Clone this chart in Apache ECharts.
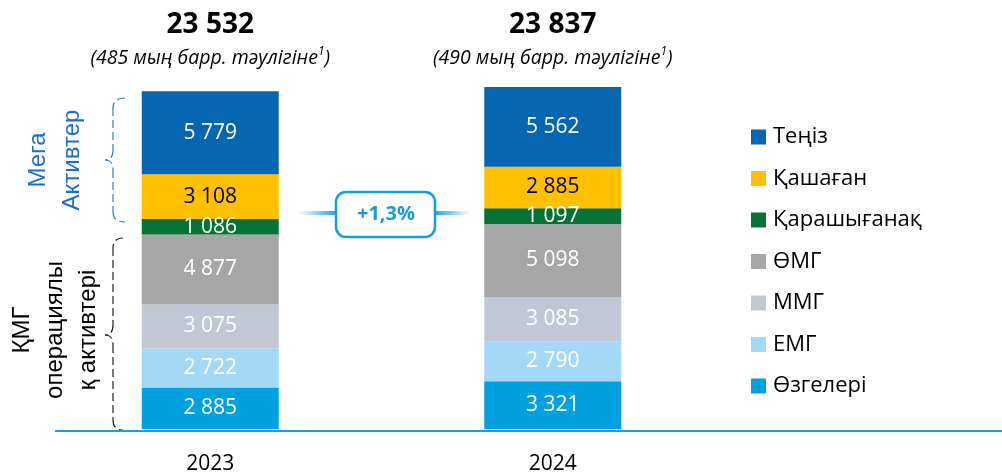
<!DOCTYPE html>
<html lang="kk">

<head>
  <meta charset="UTF-8">
  <title>Өндіріс</title>
  <style>
    html, body { margin: 0; padding: 0; background: #fff; }
    #main { width: 1002px; height: 475px; }
  </style>
</head>

<body>
  <div id="main"></div>
  <script src="https://cdn.jsdelivr.net/npm/echarts@6/dist/echarts.min.js"></script>
  <script>
    // данные
    var years = ['2023', '2024'];
    var totals = [23532, 23837];
    var perDay = ['485', '490'];
    // снизу вверх
    var seriesNames = ['Өзгелері', 'ЕМГ', 'ММГ', 'ӨМГ', 'Қарашығанақ', 'Қашаған', 'Теңіз'];
    var seriesValues = [
      [2885, 3321],
      [2722, 2790],
      [3075, 3085],
      [4877, 5098],
      [1086, 1097],
      [3108, 2885],
      [5779, 5562]
    ];
    var legendOrder = ['Теңіз', 'Қашаған', 'Қарашығанақ', 'ӨМГ', 'ММГ', 'ЕМГ', 'Өзгелері'];

    var colors = ['#00A0E1', '#A3D8F6', '#C2C7D6', '#A6A6A6', '#077235', '#FFC000', '#0766B1'];
    var labelColors = ['#fff', '#fff', '#fff', '#fff', '#fff', '#000', '#fff'];
    var font = '"Open Sans", "Noto Sans", sans-serif';

    function fmt(v) {
      return String(v).replace(/\B(?=(\d{3})+(?!\d))/g, ' ');
    }

    var myChart = echarts.init(document.getElementById('main'));

    var series = seriesNames.map(function (name, i) {
      return {
        name: name,
        type: 'bar',
        stack: 'total',
        barWidth: 137,
        data: seriesValues[i],
        itemStyle: { color: colors[i] },
        label: {
          show: true,
          position: 'inside',
          color: labelColors[i],
          fontFamily: font,
          fontSize: 21,
          formatter: function (p) { return fmt(p.value); }
        }
      };
    });

    myChart.setOption({
      animation: false,
      color: colors,
      grid: { left: 39, right: 278, top: 0, bottom: 44 },
      legend: {
        orient: 'vertical',
        left: 746,
        top: 121,
        itemWidth: 15,
        itemHeight: 15,
        itemGap: 19.5,
        icon: 'rect',
        data: legendOrder,
        textStyle: { fontFamily: font, fontSize: 22, color: '#000', padding: [0, 0, 0, 2] }
      },
      xAxis: {
        type: 'category',
        data: years,
        axisLine: { show: false },
        axisTick: { show: false },
        axisLabel: { color: '#000', fontFamily: font, fontSize: 21, margin: 25 }
      },
      yAxis: {
        type: 'value',
        min: 0,
        max: 29900,
        show: false,
        splitLine: { show: false }
      },
      series: series
    });

    // подписи сверху, скобки, выноска
    var g = [];
    years.forEach(function (y, i) {
      var x = myChart.convertToPixel({ xAxisIndex: 0 }, y);
      g.push({
        type: 'text', x: x, y: 25,
        style: {
          text: fmt(totals[i]), fontFamily: font, fontSize: 28, fontWeight: 'bold',
          fill: '#000', align: 'center', verticalAlign: 'middle'
        }
      });
      g.push({
        type: 'text', x: x, y: 58,
        style: {
          text: '{b|(' + perDay[i] + ' мың барр. тәулігіне}{s|1}{b|)}',
          align: 'center', verticalAlign: 'middle',
          rich: {
            b: { fontFamily: font, fontSize: 19.5, fontStyle: 'italic', fill: '#000', lineHeight: 24 },
            s: { fontFamily: font, fontSize: 12, fontStyle: 'italic', fill: '#000', lineHeight: 24, verticalAlign: 'top', padding: [0, 0, 9, 0] }
          }
        }
      });
    });

    // ось
    g.push({
      type: 'line', z: 100,
      shape: { x1: 55, y1: 431, x2: 1002, y2: 431 },
      style: { stroke: '#1AA0E0', lineWidth: 2 }
    });

    // фигурная скобка пунктиром
    function brace(xr, xv, xt, y1, ym, y2, color) {
      var st = { fill: null, stroke: color, lineWidth: 1.2, lineDash: [8, 4] };
      var r = 10;
      return [
        { type: 'bezierCurve', shape: { x1: xr, y1: y1, cpx1: xv, cpy1: y1, x2: xv, y2: y1 + r }, style: st },
        { type: 'line', shape: { x1: xv, y1: y1 + r, x2: xv, y2: ym - r }, style: st },
        { type: 'bezierCurve', shape: { x1: xv, y1: ym - r, cpx1: xv, cpy1: ym, x2: xt, y2: ym }, style: st },
        { type: 'bezierCurve', shape: { x1: xt, y1: ym, cpx1: xv, cpy1: ym, x2: xv, y2: ym + r }, style: st },
        { type: 'line', shape: { x1: xv, y1: ym + r, x2: xv, y2: y2 - r }, style: st },
        { type: 'bezierCurve', shape: { x1: xv, y1: y2 - r, cpx1: xv, cpy1: y2, x2: xr, y2: y2 }, style: st }
      ];
    }
    g = g.concat(brace(125, 113, 105, 98, 160, 222, '#2F7FCF'));
    g = g.concat(brace(123, 113, 105, 238, 335, 430, '#222'));

    g.push({
      type: 'text', x: 55, y: 160, rotation: Math.PI / 2,
      style: {
        text: 'Мега\nАктивтер', fontFamily: '"Liberation Sans", Arial, sans-serif', fontSize: 24,
        lineHeight: 34, fill: '#1B6FCC', align: 'center', verticalAlign: 'middle'
      }
    });
    g.push({
      type: 'text', x: 55, y: 330, rotation: Math.PI / 2,
      style: {
        text: 'ҚМГ\nоперациялы\nқ активтері', fontFamily: '"Liberation Sans", Arial, sans-serif', fontSize: 24,
        lineHeight: 33, fill: '#000', align: 'center', verticalAlign: 'middle'
      }
    });

    // выноска +1,3%
    var growth = ((totals[1] / totals[0] - 1) * 100).toFixed(1).replace('.', ',');
    function grad(a, b) {
      return {
        type: 'linear', x: 0, y: 0, x2: 1, y2: 0,
        colorStops: [{ offset: 0, color: a }, { offset: 1, color: b }]
      };
    }
    g.push({
      type: 'rect',
      shape: { x: 298, y: 211, width: 40, height: 4 },
      style: { fill: grad('rgba(26,160,224,0)', 'rgba(26,160,224,1)') }
    });
    g.push({
      type: 'rect',
      shape: { x: 434, y: 211, width: 36, height: 4 },
      style: { fill: grad('rgba(26,160,224,1)', 'rgba(26,160,224,0)') }
    });
    g.push({
      type: 'rect',
      shape: { x: 336, y: 192, width: 99, height: 45, r: 10 },
      style: { fill: '#fff', stroke: '#13A0E0', lineWidth: 2.5 }
    });
    g.push({
      type: 'text', x: 386, y: 214,
      style: {
        text: '+' + growth + '%', fontFamily: font, fontSize: 20, fontWeight: 'bold',
        fill: '#1B9AD6', align: 'center', verticalAlign: 'middle'
      }
    });

    myChart.setOption({ graphic: g });
  </script>
</body>

</html>
